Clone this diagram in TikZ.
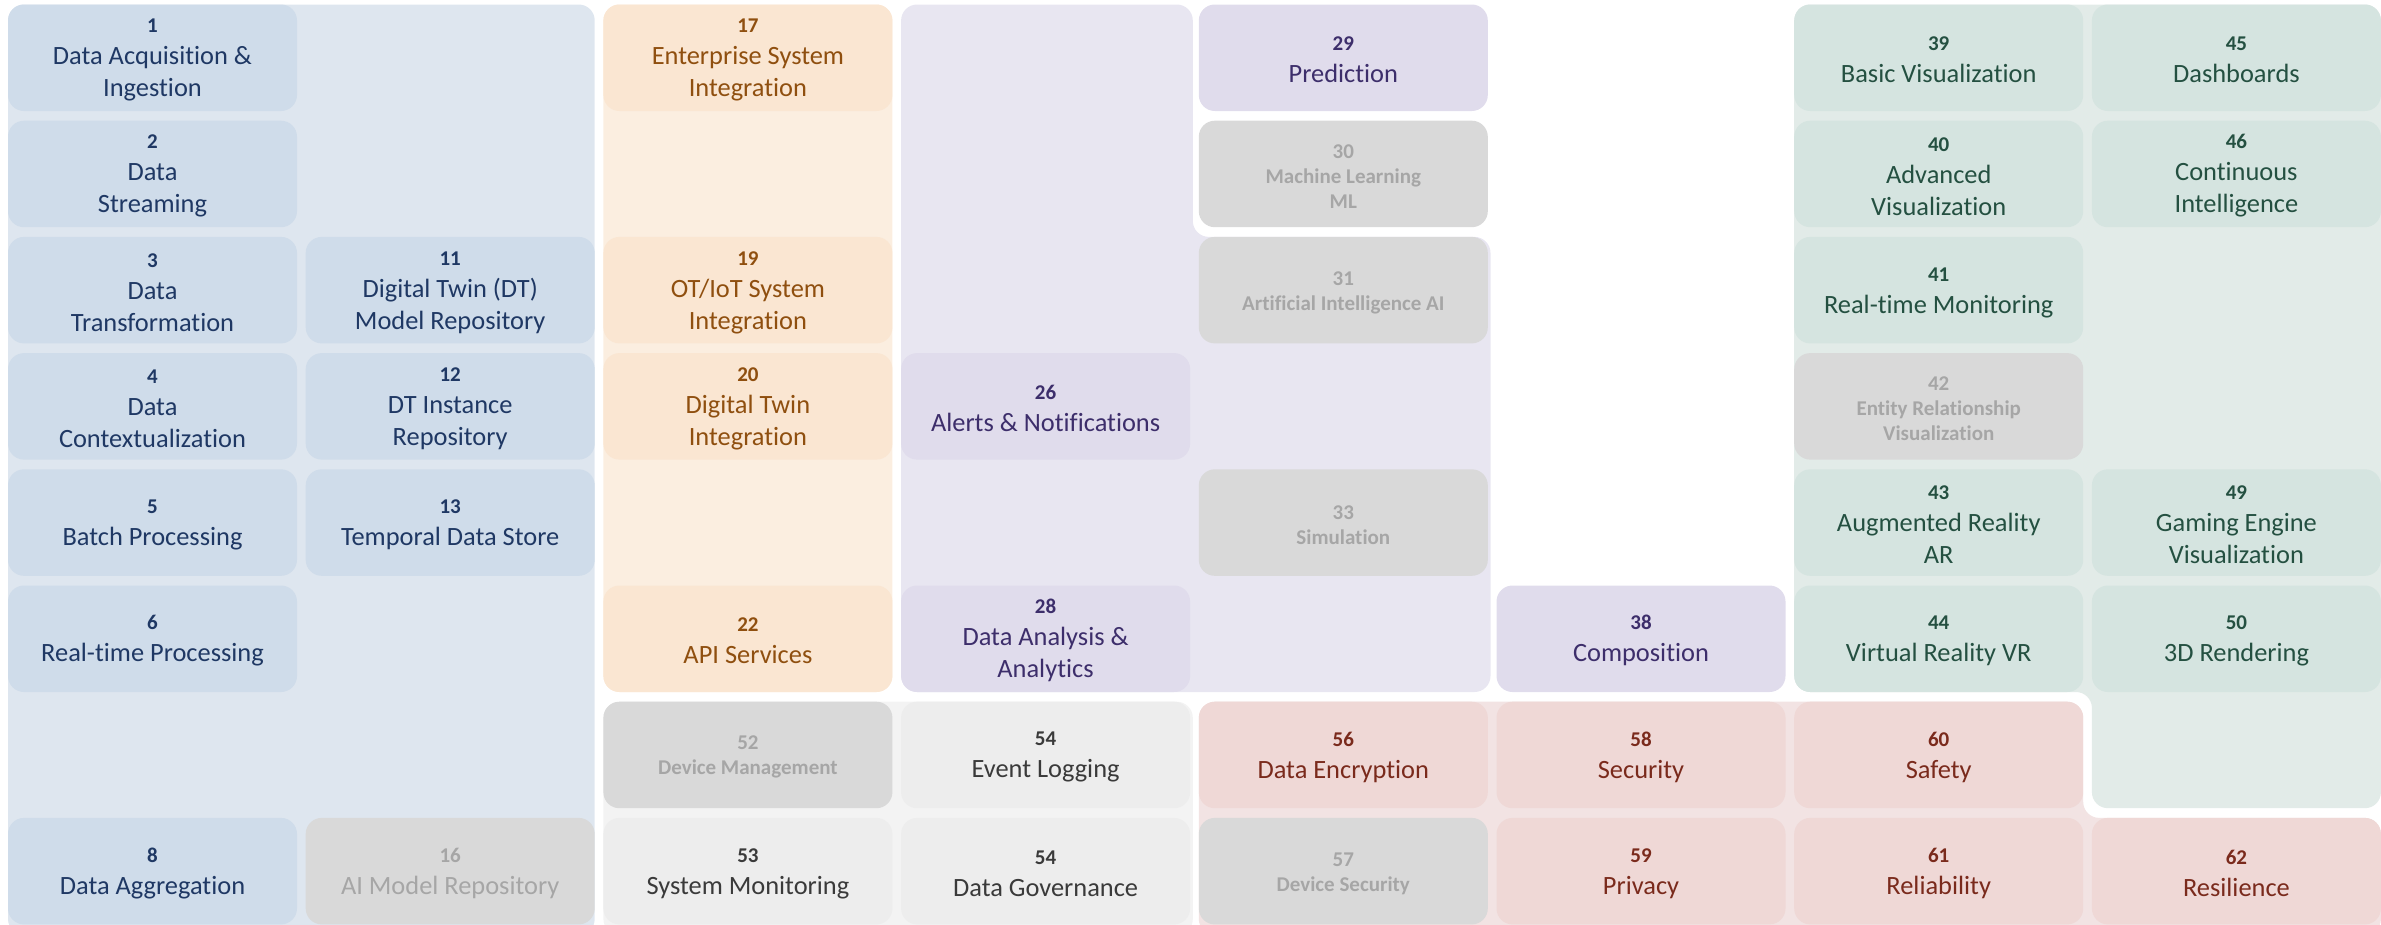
\documentclass[tikz,border=0pt]{standalone}
\usepackage{fontspec}
\setmainfont{Carlito}[Ligatures=NoCommon]
\definecolor{bluebg}{HTML}{DEE6EF}
\definecolor{bluetile}{HTML}{CFDCEA}
\definecolor{bluetxt}{HTML}{1F3864}
\definecolor{orbg}{HTML}{FBEEE0}
\definecolor{ortile}{HTML}{FAE6D2}
\definecolor{ortxt}{HTML}{8F4F0F}
\definecolor{pubg}{HTML}{E8E6F1}
\definecolor{putile}{HTML}{E0DCEC}
\definecolor{putxt}{HTML}{3D2E6B}
\definecolor{grtile}{HTML}{D9D9D9}
\definecolor{grtxt}{HTML}{A6A6A6}
\definecolor{gnbg}{HTML}{E2EBE8}
\definecolor{gntile}{HTML}{D5E4E0}
\definecolor{gntxt}{HTML}{245041}
\definecolor{rdbg}{HTML}{F2E3E3}
\definecolor{rdtile}{HTML}{EFD8D6}
\definecolor{rdtxt}{HTML}{7A2A1C}
\definecolor{lgbg}{HTML}{F3F3F3}
\definecolor{lgtile}{HTML}{EDEDED}
\definecolor{lgtxt}{HTML}{3A3A3A}
\tikzset{
  tilebox/.style={rectangle, rounded corners=16pt, minimum width=289pt, minimum height=106.5pt, inner sep=0pt, align=center, font=\fontsize{26.4}{32}\selectfont},
  bltile/.style={tilebox, fill=bluetile, text=bluetxt},
  ortile/.style={tilebox, fill=ortile, text=ortxt},
  putile/.style={tilebox, fill=putile, text=putxt},
  gntile/.style={tilebox, fill=gntile, text=gntxt},
  rdtile/.style={tilebox, fill=rdtile, text=rdtxt},
  lgtile/.style={tilebox, fill=lgtile, text=lgtxt},
  grtile/.style={tilebox, fill=grtile, text=grtxt},
  grsmall/.style={tilebox, fill=grtile, text=grtxt, font=\fontsize{21}{25}\selectfont\bfseries},
  grpbg/.style={rounded corners=16pt}
}
\newcommand{\numf}[1]{{\fontsize{21}{24}\selectfont\bfseries\rule{0pt}{18.5pt}#1}}
\newcommand{\tl}[6]{%
  \pgfmathsetmacro{\cx}{8+(#1-1)*297.7+144.5}%
  \pgfmathsetmacro{\cy}{4.5+(#2-1)*116.2+53.25}%
  \node[#4] (#3) at (\cx,\cy) {\numf{#5}\\#6};%
}
\begin{document}
\begin{tikzpicture}[x=1pt,y=-1pt]
\useasboundingbox (0,0) rectangle (2381,924);
% group backgrounds
\fill[bluebg, grpbg] (8,4.5) rectangle (594.7,935);
\fill[orbg, grpbg] (603.4,4.5) rectangle (892.4,692);
\fill[pubg, grpbg] (901.1,4.5) -- (1192.8,4.5) -- (1192.8,236.9) -- (1490.5,236.9) -- (1490.5,692) -- (901.1,692) -- cycle;
\fill[gnbg, grpbg] (1794.2,4.5) -- (2380.9,4.5) -- (2380.9,808.2) -- (2091.9,808.2) -- (2091.9,692) -- (1794.2,692) -- cycle;
\fill[rdbg, grpbg] (1198.8,701.7) -- (2083.2,701.7) -- (2083.2,817.9) -- (2380.9,817.9) -- (2380.9,935) -- (1198.8,935) -- cycle;
\fill[lgbg, grpbg] (603.4,701.7) rectangle (1192.8,935);
% column 1
\tl{1}{1}{t1}{bltile}{1}{Data Acquisition \&\\Ingestion}
\tl{1}{2}{t2}{bltile}{2}{Data\\Streaming}
\tl{1}{3}{t3}{bltile}{3}{Data\\Transformation}
\tl{1}{4}{t4}{bltile}{4}{Data\\Contextualization}
\tl{1}{5}{t5}{bltile}{5}{Batch Processing}
\tl{1}{6}{t6}{bltile}{6}{Real-time Processing}
\tl{1}{8}{t8}{bltile}{8}{Data Aggregation}
% column 2
\tl{2}{3}{t11}{bltile}{11}{Digital Twin (DT)\\Model Repository}
\tl{2}{4}{t12}{bltile}{12}{DT Instance\\Repository}
\tl{2}{5}{t13}{bltile}{13}{Temporal Data Store}
\tl{2}{8}{t16}{grtile}{16}{AI Model Repository}
% column 3
\tl{3}{1}{t17}{ortile}{17}{Enterprise System\\Integration}
\tl{3}{3}{t19}{ortile}{19}{OT/IoT System\\Integration}
\tl{3}{4}{t20}{ortile}{20}{Digital Twin\\Integration}
\tl{3}{6}{t22}{ortile}{22}{API Services}
\tl{3}{7}{t52}{grsmall}{52}{Device Management}
\tl{3}{8}{t53}{lgtile}{53}{System Monitoring}
% column 4
\tl{4}{4}{t26}{putile}{26}{Alerts \& Notifications}
\tl{4}{6}{t28}{putile}{28}{Data Analysis \&\\Analytics}
\tl{4}{7}{t54a}{lgtile}{54}{Event Logging}
\tl{4}{8}{t54b}{lgtile}{54}{Data Governance}
% column 5
\tl{5}{1}{t29}{putile}{29}{Prediction}
\tl{5}{2}{t30}{grsmall}{30}{Machine Learning\\ML}
\tl{5}{3}{t31}{grsmall}{31}{Artificial Intelligence AI}
\tl{5}{5}{t33}{grsmall}{33}{Simulation}
\tl{5}{7}{t56}{rdtile}{56}{Data Encryption}
\tl{5}{8}{t57}{grsmall}{57}{Device Security}
% column 6
\tl{6}{6}{t38}{putile}{38}{Composition}
\tl{6}{7}{t58}{rdtile}{58}{Security}
\tl{6}{8}{t59}{rdtile}{59}{Privacy}
% column 7
\tl{7}{1}{t39}{gntile}{39}{Basic Visualization}
\tl{7}{2}{t40}{gntile}{40}{Advanced\\Visualization}
\tl{7}{3}{t41}{gntile}{41}{Real-time Monitoring}
\tl{7}{4}{t42}{grsmall}{42}{Entity Relationship\\Visualization}
\tl{7}{5}{t43}{gntile}{43}{Augmented Reality\\AR}
\tl{7}{6}{t44}{gntile}{44}{Virtual Reality VR}
\tl{7}{7}{t60}{rdtile}{60}{Safety}
\tl{7}{8}{t61}{rdtile}{61}{Reliability}
% column 8
\tl{8}{1}{t45}{gntile}{45}{Dashboards}
\tl{8}{2}{t46}{gntile}{46}{Continuous\\Intelligence}
\tl{8}{5}{t49}{gntile}{49}{Gaming Engine\\Visualization}
\tl{8}{6}{t50}{gntile}{50}{3D Rendering}
\tl{8}{8}{t62}{rdtile}{62}{Resilience}
\end{tikzpicture}
\end{document}
